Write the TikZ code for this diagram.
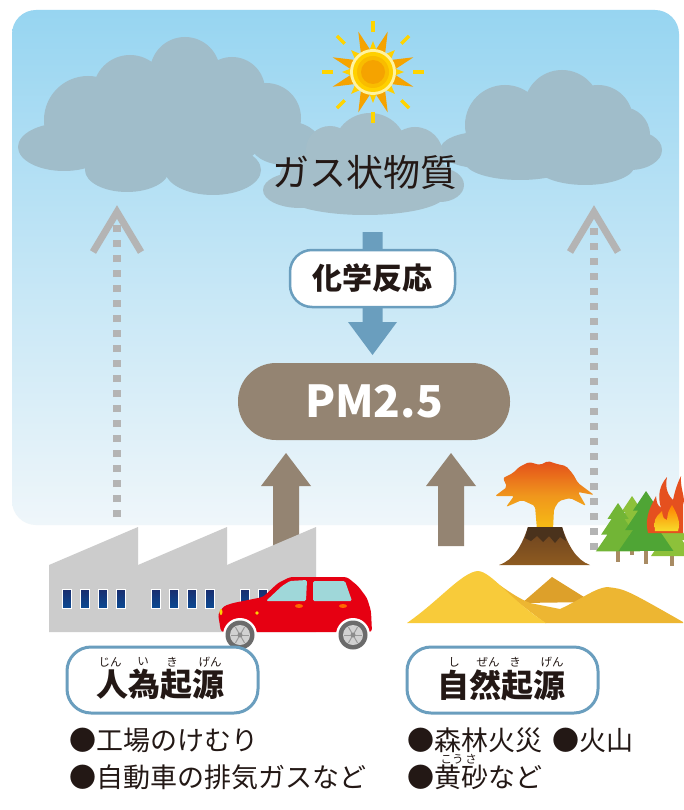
\documentclass[tikz,border=0pt]{standalone}
\usepackage{fontspec}
\setmainfont{Noto Sans CJK JP}
\usetikzlibrary{calc}

\definecolor{skytop}{HTML}{97D5F1}
\definecolor{skybot}{HTML}{EFF6FA}
\definecolor{cloudc}{HTML}{A0BDCA}
\definecolor{cloudm}{HTML}{A4BEC9}
\definecolor{steel}{HTML}{6A9EBE}
\definecolor{mud}{HTML}{948472}
\definecolor{dotgray}{HTML}{B4B4B4}
\definecolor{ink}{HTML}{231815}
\definecolor{plant}{HTML}{CCCCCC}
\definecolor{navy}{HTML}{1A2D6E}
\definecolor{navyb}{HTML}{0B4A93}
\definecolor{carred}{HTML}{E60012}
\definecolor{glass}{HTML}{9FD7D9}
\definecolor{sunpale}{HTML}{FFF3A0}
\definecolor{sunyel}{HTML}{FFD000}
\definecolor{sunmid}{HTML}{F9BC00}
\definecolor{sunorg}{HTML}{F5A300}
\definecolor{sunray}{HTML}{FFD400}
\definecolor{sandA}{HTML}{F8CB3A}
\definecolor{sandB}{HTML}{EDB632}
\definecolor{sandC}{HTML}{DDA02A}
\definecolor{lavatop}{HTML}{E4501B}
\definecolor{lavamid}{HTML}{F0961C}
\definecolor{lavabot}{HTML}{F6BE14}
\definecolor{rockA}{HTML}{6B4220}
\definecolor{rockB}{HTML}{8E5B20}
\definecolor{crater}{HTML}{4A321C}
\definecolor{leafA}{HTML}{8DC13A}
\definecolor{leafB}{HTML}{72B536}
\definecolor{leafC}{HTML}{4FA535}
\definecolor{bark}{HTML}{A88B63}
\definecolor{flame}{HTML}{E5501F}
\definecolor{flamey}{HTML}{F7DC2A}

\newcommand\jpsize[1]{\fontsize{#1}{#1}\selectfont}

\tikzset{
  txt/.style={text=ink, inner sep=0pt},
  gastext/.style={txt, font=\jpsize{37}},
  pill/.style={draw=steel, fill=white, line width=2.5pt},
  reactbox/.style={pill, rounded corners=22pt, minimum width=165pt, minimum height=57pt,
    font=\jpsize{30}\bfseries, text=ink, inner sep=0pt},
  pmbox/.style={fill=mud, rounded corners=38pt, minimum width=272pt, minimum height=77pt,
    font=\jpsize{44}\bfseries, text=white, inner sep=0pt},
  srcbox/.style={pill, line width=3pt, rounded corners=24pt, minimum width=191pt, minimum height=66pt},
  srctitle/.style={txt, font=\jpsize{32}\bfseries},
  ruby/.style={txt, font=\jpsize{11.5}},
  item/.style={txt, font=\jpsize{27}, anchor=west},
  dotline/.style={draw=dotgray, line width=8pt, dash pattern=on 7pt off 8pt},
  chevron/.style={draw=dotgray, line width=7pt, miter limit=10},
  blockup/.style={fill=mud},
  pine/.pic={
    \fill[bark] (-1.6,42) rectangle (1.6,56);
    \fill[pic actions] (0,0) -- (-10,15) -- (-6,15) -- (-16,30) -- (-10,30) -- (-21,46)
      -- (21,46) -- (10,30) -- (16,30) -- (6,15) -- (10,15) -- cycle;
  },
}

\begin{document}
\begin{tikzpicture}[x=1pt, y=-1pt]
\useasboundingbox (0,0) rectangle (683,810);
\fill[white] (0,0) rectangle (683,810);

% sky panel
\shade[top color=skytop, bottom color=skybot, rounded corners=24pt] (12,10) rectangle (679,525);

% clouds
\fill[cloudc]
  (64,147) ellipse [x radius=46, y radius=24]
  (88,120) circle [radius=44]
  (130,92) circle [radius=37]
  (185,72) circle [radius=35]
  (232,90) circle [radius=33]
  (266,118) circle [radius=35]
  (285,143) ellipse [x radius=35, y radius=22]
  (127,170) ellipse [x radius=42, y radius=22]
  (213,170) ellipse [x radius=48, y radius=25]
  (170,130) ellipse [x radius=100, y radius=45];
\fill[cloudc]
  (480,150) ellipse [x radius=40, y radius=18]
  (505,125) circle [radius=40]
  (562,108) circle [radius=38]
  (598,120) circle [radius=35]
  (622,135) circle [radius=28]
  (630,150) ellipse [x radius=32, y radius=20]
  (520,162) ellipse [x radius=55, y radius=18]
  (585,165) ellipse [x radius=50, y radius=20]
  (555,140) ellipse [x radius=80, y radius=35];
\fill[cloudm]
  (300,190) ellipse [x radius=37, y radius=18]
  (330,150) circle [radius=24]
  (370,150) circle [radius=37]
  (415,155) circle [radius=28]
  (440,185) ellipse [x radius=24, y radius=17]
  (365,195) ellipse [x radius=80, y radius=20]
  (365,175) ellipse [x radius=85, y radius=30];

% sun
\coordinate (sun) at (373,72);
\foreach \a in {0,45,...,315}
  \draw[sunray, line width=3.5pt] ($(sun)+(\a:40)$) -- ($(sun)+(\a:51)$);
\foreach \a in {0,90,180,270} {
  \fill[sunorg] ($(sun)+(\a+20:43)$) -- ($(sun)+(\a+2:19)$) -- ($(sun)+(\a+38:19)$) -- cycle;
  \fill[sunorg] ($(sun)+(\a-20:43)$) -- ($(sun)+(\a-2:19)$) -- ($(sun)+(\a-38:19)$) -- cycle;
}
\foreach \a in {0,45,...,315}
  \fill[sunyel] ($(sun)+(\a:31)$) -- ($(sun)+(\a+13:20)$) -- ($(sun)+(\a-13:20)$) -- cycle;
\fill[sunpale] (sun) circle [radius=23];
\fill[sunyel] (sun) circle [radius=20];
\fill[sunmid] (sun) circle [radius=16];
\fill[sunorg] (sun) circle [radius=12];

\node[gastext] (gas) at (365,172) {ガス状物質};

% dotted rising arrows
\coordinate (ldot) at (117,517);
\coordinate (ltop) at (117,222);
\coordinate (rdot) at (594,550);
\coordinate (rtop) at (594,222);
\draw[dotline] (ldot) -- (ltop);
\draw[dotline] (rdot) -- (rtop);
\draw[chevron] ($(ltop)+(-24,30)$) -- ($(ltop)+(0,-10)$) -- ($(ltop)+(24,30)$);
\draw[chevron] ($(rtop)+(-24,30)$) -- ($(rtop)+(0,-10)$) -- ($(rtop)+(24,30)$);

% reaction arrow
\coordinate (btop) at (372.5,232);
\coordinate (btip) at (372.5,355);
\fill[steel] ($(btop)+(-10,0)$) -- ($(btip)+(-10,-33)$) -- ($(btip)+(-24.5,-33)$) -- (btip)
  -- ($(btip)+(24.5,-33)$) -- ($(btip)+(10,-33)$) -- ($(btop)+(10,0)$) -- cycle;
\node[reactbox] (react) at (372.5,278.5) {化学反応};
\node[pmbox] (pm) at (374,401.5) {PM2.5};

% source arrows into PM2.5
\coordinate (lfoot) at (286,546);
\coordinate (ltipb) at (286,453);
\coordinate (rfoot) at (451,546);
\coordinate (rtipb) at (451,453);
\foreach \f/\t in {lfoot/ltipb, rfoot/rtipb}
  \fill[blockup] ($(\f)+(-13,0)$) -- ($(\t)+(-13,33)$) -- ($(\t)+(-25,33)$) -- (\t)
    -- ($(\t)+(25,33)$) -- ($(\t)+(13,33)$) -- ($(\f)+(13,0)$) -- cycle;

% factory
\foreach \x in {49,138,227} {
  \fill[plant] (\x,632) -- (\x,565) -- (\x+89,527) -- (\x+89,632) -- cycle;
  \draw[white!85!plant, line width=0.8pt] (\x+89,530) -- (\x+89,632);
  \foreach \w in {13,31,49,67}
    \shade[top color=navy, bottom color=navyb, draw=white, line width=1pt]
      (\x+\w,589) rectangle (\x+\w+9,608);
}

% car
\fill[carred, rounded corners=3pt] (221,632) -- (218,614) -- (224,606) -- (233,603) -- (263,597)
  -- (278,583) -- (290,577) -- (347,577) -- (358,586) -- (367,598) -- (371,611) -- (372,632) -- cycle;
\fill[glass, rounded corners=1.5pt] (266,601) -- (282,586) -- (290,581) -- (307,580) -- (306,601) -- cycle;
\fill[glass, rounded corners=1.5pt] (313,581) -- (345,581) -- (352,601) -- (313,601) -- cycle;
\fill[orange!80!red] (299,606) ellipse [x radius=4, y radius=2];
\fill[orange!80!red] (343,606) ellipse [x radius=4, y radius=2];
\fill[yellow!70!orange] (257,613) circle [radius=1.8];
\fill[yellow!70!orange] (221,612) ellipse [x radius=1.5, y radius=3];
\foreach \c in {240,353} {
  \fill[white] (\c,635) circle [radius=17];
  \fill[black!58] (\c,635) circle [radius=14.5];
  \fill[black!18] (\c,635) circle [radius=10];
  \foreach \s in {0,60,...,300}
    \draw[black!40, line width=1pt] (\c,635) -- ++(\s:9);
  \fill[black!45] (\c,635) circle [radius=2.5];
}

% volcano
\shade[top color=lavatop, bottom color=lavabot, middle color=lavamid, rounded corners=2pt]
  (537,530) -- (535,506) -- (522,500) -- (506,507) -- (514,496) -- (495,496) -- (507,487)
  -- (503,478) -- (513,473) -- (519,467) -- (529,462) -- (540,465) -- (548,461) -- (557,464)
  -- (566,466) -- (573,474) -- (578,483) -- (594,495) -- (578,492) -- (586,506) -- (570,498)
  -- (559,501) -- (554,509) -- (553,530) -- cycle;
\shade[top color=rockA, bottom color=rockB] (499,565) .. controls (514,560) and (522,545) .. (528,527)
  -- (562,527) .. controls (568,545) and (576,560) .. (590,565) -- cycle;
\fill[crater] (528,527) -- (562,527) -- (566,541) -- (560,537) -- (555,543) -- (549,536)
  -- (543,542) -- (537,536) -- (531,541) -- (525,538) -- cycle;

% trees and fire
\pic[fill=leafA, scale=1.05] at (632,496) {pine};
\pic[fill=leafB, scale=1.05] at (618,503) {pine};
\pic[fill=leafA, scale=1.0] at (672,510) {pine};
\pic[fill=leafC, scale=1.3] at (646,491) {pine};
\fill[flame] (648,533) .. controls (644,515) and (652,505) .. (656,496) .. controls (657,504) .. (661,508)
  .. controls (657,495) and (660,485) .. (667,477) .. controls (664,490) and (670,497) .. (673,500)
  .. controls (675,490) and (678,482) .. (681,476) .. controls (680,490) and (686,497) .. (683,505)
  -- (683,533) -- cycle;
\shade[top color=orange, bottom color=flamey] (655,531) .. controls (654,519) .. (662,511)
  .. controls (663,518) .. (667,520) .. controls (668,512) .. (672,505)
  .. controls (677,514) and (681,522) .. (678,531) -- cycle;

% sand dunes
\fill[sandC] (522,603) -- (552,577) -- (592,602) -- cycle;
\fill[sandB] (478,572) .. controls (492,577) and (508,594) .. (530,603) -- (560,609)
  .. controls (580,600) and (595,588) .. (607,587) .. controls (625,589) .. (683,622)
  -- (683,623) -- (545,623) -- cycle;
\fill[sandA] (407,623) .. controls (440,600) and (462,572) .. (478,571)
  .. controls (492,572) and (510,600) .. (546,623) -- cycle;

% source labels
\node[srcbox] (human) at (162.5,680) {};
\node[srctitle] (humant) at (160,685) {人為起源};
\node[ruby] (rh1) at (110,662) {じん};
\node[ruby] (rh2) at (143,662) {い};
\node[ruby] (rh3) at (172,662) {き};
\node[ruby] (rh4) at (210,662) {げん};

\node[srcbox] (nature) at (502.5,680) {};
\node[srctitle] (naturet) at (501.5,685) {自然起源};
\node[ruby] (rn1) at (454,662) {し};
\node[ruby] (rn2) at (488,662) {ぜん};
\node[ruby] (rn3) at (515,662) {き};
\node[ruby] (rn4) at (552,662) {げん};

\node[item] (h1) at (69,740) {●工場のけむり};
\node[item] (h2) at (69,777) {●自動車の排気ガスなど};
\node[item] (n1) at (407,740) {●森林火災};
\node[item] (n2) at (552,740) {●火山};
\node[item] (n3) at (407,777) {●黄砂など};
\node[ruby] (rk1) at (452,759) {こう};
\node[ruby] (rk2) at (471,759) {さ};
\end{tikzpicture}
\end{document}
